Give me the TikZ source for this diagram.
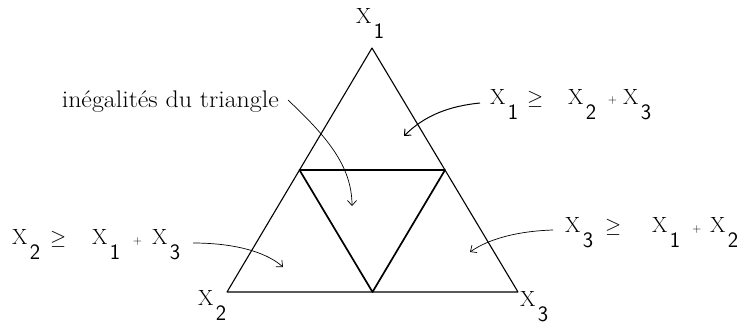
\documentclass[tikz,border=0pt]{standalone}
\usetikzlibrary{arrows.meta,calc}
\newcommand{\Xsub}[1]{X\hspace{2.5pt}\raisebox{-15pt}{\sffamily #1}}
\begin{document}
\begin{tikzpicture}[x=1pt,y=-1pt,
  lab/.style={inner sep=0pt, anchor=base west, font=\fontsize{22}{26}\selectfont},
  rel/.style={inner sep=0pt, anchor=base west, font=\fontsize{20}{24}\selectfont},
  plus/.style={inner sep=0pt, anchor=center, font=\fontsize{13}{16}\selectfont},
  txt/.style={inner sep=0pt, anchor=base east, font=\fontsize{24}{28}\selectfont},
  outer/.style={line width=1.1pt, line join=round},
  inner/.style={line width=1.7pt, line join=round},
  arr/.style={line width=0.7pt, -{Straight Barb[length=5pt,width=9pt]}}]
\useasboundingbox (0,0) rectangle (747,325);
% triangle
\coordinate (A) at (372,48);
\coordinate (B) at (227,292);
\coordinate (C) at (518,292);
\coordinate (mAB) at ($(A)!0.5!(B)$);
\coordinate (mAC) at ($(A)!0.5!(C)$);
\coordinate (mBC) at ($(B)!0.5!(C)$);
\draw[outer] (A) -- (B) -- (C) -- cycle;
\draw[inner] (mAB) -- (mAC) -- (mBC) -- cycle;
% vertex labels
\node[lab] (v1) at (356,23) {\Xsub{1}};
\node[lab] (v2) at (198,305) {\Xsub{2}};
\node[lab] (v3) at (520,306) {\Xsub{3}};
% top-right inequality
\node[lab] (a1) at (490,104) {\Xsub{1}};
\node[rel] (ag) at (527,104) {$\geq$};
\node[lab] (a2) at (568,104) {\Xsub{2}};
\node[plus] (ap) at (612.5,100) {$+$};
\node[lab] (a3) at (623,104) {\Xsub{3}};
% left inequality
\node[lab] (b2) at (12,244) {\Xsub{2}};
\node[rel] (bg) at (50,244) {$\geq$};
\node[lab] (b1) at (92,244) {\Xsub{1}};
\node[plus] (bp) at (137.5,241) {$+$};
\node[lab] (b3) at (152,244) {\Xsub{3}};
% right inequality
\node[lab] (c3) at (565,232) {\Xsub{3}};
\node[rel] (cg) at (605,232) {$\geq$};
\node[lab] (c1) at (652,232) {\Xsub{1}};
\node[plus] (cp) at (697,229) {$+$};
\node[lab] (c2) at (710,232) {\Xsub{2}};
% text
\node[txt] (t) at (279,107) {\scalebox{1.08}[1]{inégalités du triangle}};
% arrows
\coordinate (ts) at (288,100);
\coordinate (te) at (352,206);
\draw[arr] (ts) .. controls (325,135) and (352,165) .. (te);
\coordinate (as) at (480,103);
\coordinate (ae) at (404,136);
\draw[arr, line width=1pt] (as) .. controls (450,106) and (425,115) .. (ae);
\coordinate (cs) at (553,230);
\coordinate (ce) at (470,252);
\draw[arr] (cs) .. controls (520,231) and (490,238) .. (ce);
\coordinate (bs) at (193,243);
\coordinate (be) at (283,267);
\draw[arr] (bs) .. controls (232,243) and (265,251) .. (be);
\end{tikzpicture}
\end{document}
